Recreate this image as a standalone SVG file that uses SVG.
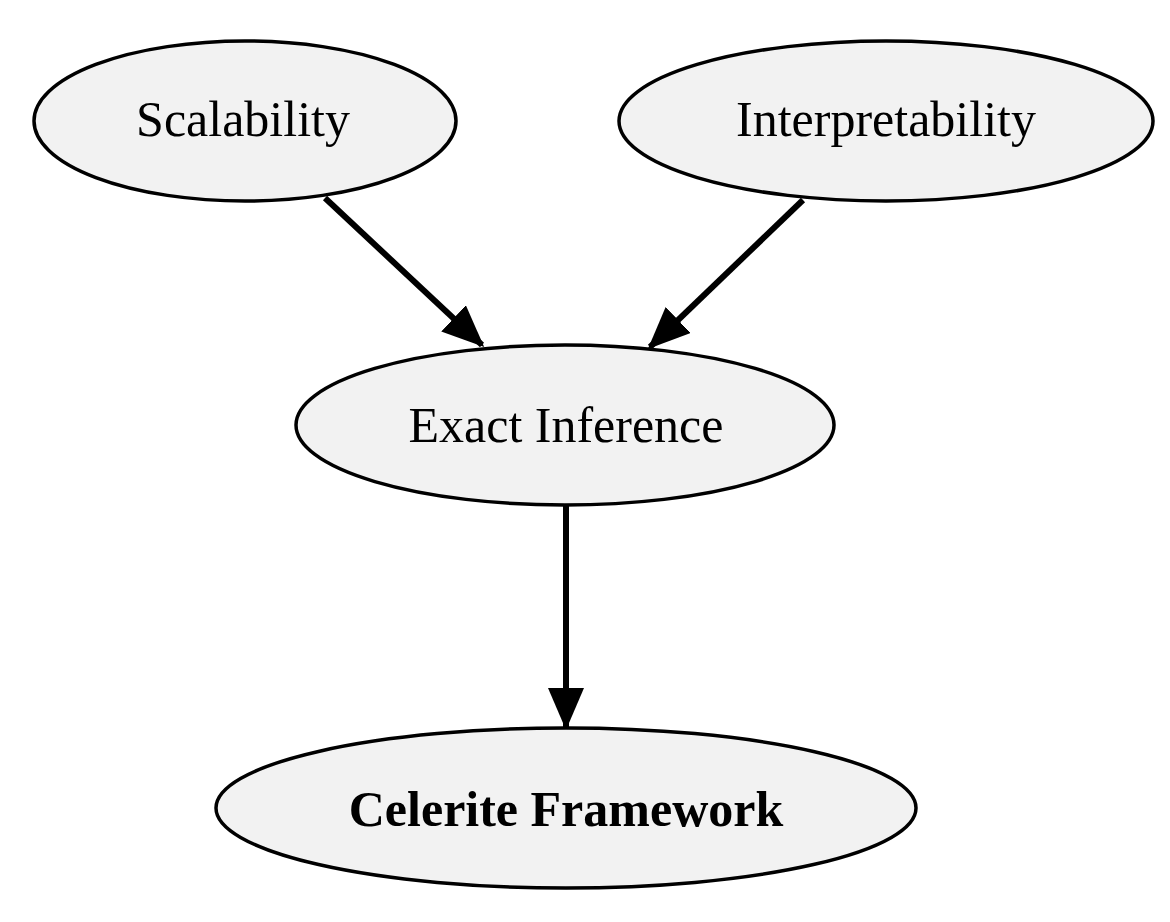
<svg xmlns="http://www.w3.org/2000/svg" width="1170" height="922" viewBox="0 0 1170 922">
<style>
.n{fill:#f2f2f2;stroke:#000;stroke-width:3.5}
.t{font-family:"Liberation Serif","DejaVu Serif",serif;font-size:50px;text-anchor:middle;fill:#000}
.c{stroke:#000;stroke-width:6;fill:none;marker-end:url(#a)}
</style>
<defs>
<marker id="a" markerWidth="7" markerHeight="6" refX="6.5" refY="3" orient="auto" markerUnits="strokeWidth">
<path d="M0,0 L7,3 L0,6 Z" fill="#000"/>
</marker>
</defs>
<rect width="1170" height="922" fill="#fff"/>
<g id="connectors">
<line class="c" x1="325" y1="198" x2="482" y2="345"/>
<line class="c" x1="803" y1="200" x2="650" y2="347"/>
<line class="c" x1="566" y1="505" x2="566" y2="727"/>
</g>
<g id="scalability"><ellipse class="n" cx="245" cy="121" rx="211" ry="80"/><text class="t" x="243" y="136">Scalability</text></g>
<g id="interpretability"><ellipse class="n" cx="886" cy="121" rx="267" ry="80"/><text class="t" x="886" y="136">Interpretability</text></g>
<g id="exact"><ellipse class="n" cx="565" cy="425" rx="269" ry="80"/><text class="t" x="566" y="442">Exact Inference</text></g>
<g id="celerite"><ellipse class="n" cx="566" cy="808" rx="350" ry="80"/><text class="t" x="566" y="826" font-weight="bold">Celerite Framework</text></g>
</svg>
